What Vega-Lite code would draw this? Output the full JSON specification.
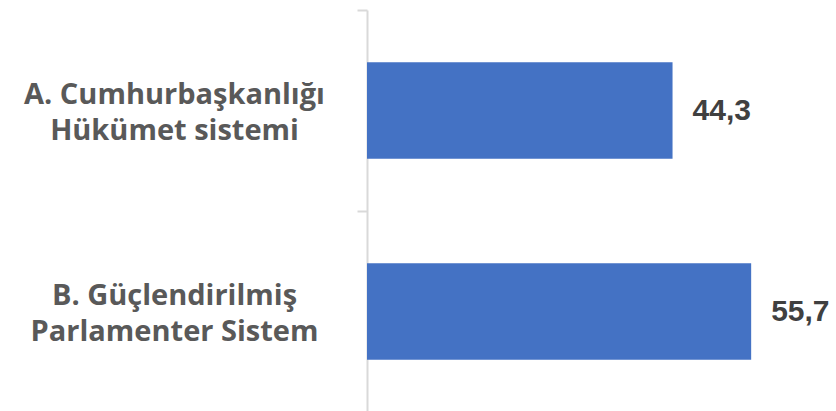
{
  "$schema": "https://vega.github.io/schema/vega-lite/v6.json",
  "autosize": "none",
  "width": 469,
  "height": 402,
  "padding": {"left": 367, "top": 10, "right": 0, "bottom": 0},
  "config": {
    "view": {"stroke": null},
    "locale": {"number": {"decimal": ",", "thousands": ".", "grouping": [3], "currency": ["", " TL"]}}
  },
  "data": {
    "values": [
      {"secenek": "A. Cumhurbaşkanlığı|Hükümet sistemi", "oran": 44.3},
      {"secenek": "B. Güçlendirilmiş|Parlamenter Sistem", "oran": 55.7}
    ]
  },
  "encoding": {
    "y": {
      "field": "secenek",
      "type": "nominal",
      "sort": null,
      "scale": {"paddingInner": 0, "paddingOuter": 0},
      "axis": {
        "title": null,
        "labelExpr": "split(datum.label, '|')",
        "labelAlign": "center",
        "labelPadding": 183,
        "labelLimit": 400,
        "labelOffset": -16,
        "labelFont": "Open Sans",
        "labelFontWeight": "bold",
        "labelFontSize": 29,
        "labelColor": "#595959",
        "labelLineHeight": 36,
        "tickBand": "extent",
        "tickSize": 10,
        "tickColor": "#d9d9d9",
        "tickWidth": 2,
        "domainColor": "#d9d9d9",
        "domainWidth": 2
      }
    },
    "x": {
      "field": "oran",
      "type": "quantitative",
      "scale": {"domain": [0, 68]},
      "axis": null
    }
  },
  "layer": [
    {"mark": {"type": "bar", "color": "#4472C4", "height": {"band": 0.48}}},
    {
      "mark": {"type": "text", "align": "left", "baseline": "middle", "dx": 20, "font": "Liberation Sans", "fontWeight": "bold", "fontSize": 30, "color": "#404040"},
      "encoding": {"text": {"field": "oran", "type": "quantitative", "format": ".1f"}}
    }
  ]
}
